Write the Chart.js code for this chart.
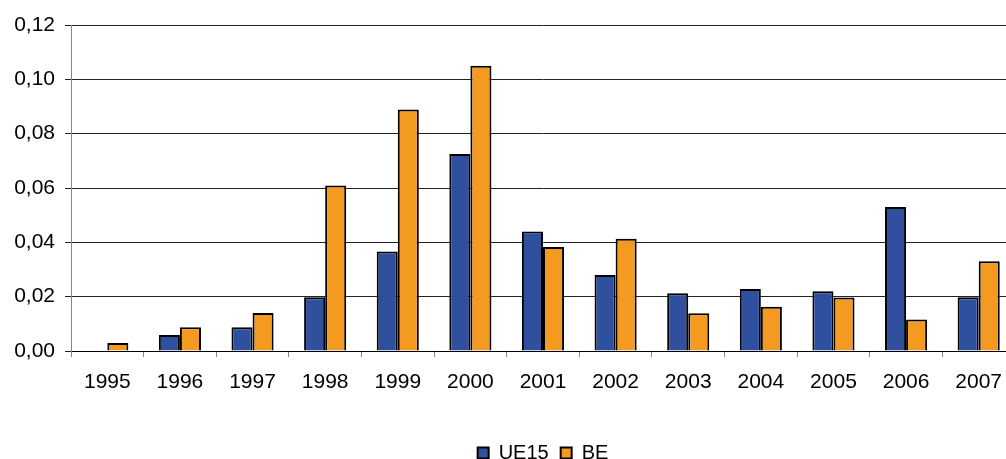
<!DOCTYPE html>
<html>
<head>
<meta charset="utf-8">
<script src="https://cdn.jsdelivr.net/npm/chart.js@4/dist/chart.umd.min.js"></script>
<style>
html,body{margin:0;padding:0;background:#fff;overflow:hidden;width:1006px;height:459px;}
canvas{display:block;}
</style>
</head>
<body>
<canvas id="c" width="1016" height="473"></canvas>
<script>
const categories = ['1995','1996','1997','1998','1999','2000','2001','2002','2003','2004','2005','2006','2007'];
const ue15 = [0, 0.0059, 0.0087, 0.0198, 0.0366, 0.0725, 0.0440, 0.0280, 0.0213, 0.0228, 0.0220, 0.0530, 0.0198];
const be   = [0.0029, 0.0087, 0.0140, 0.0609, 0.0889, 0.1050, 0.0383, 0.0413, 0.0139, 0.0163, 0.0197, 0.0116, 0.0330];
const seriesNames = ['UE15', 'BE'];
const yTicks = [0, 0.02, 0.04, 0.06, 0.08, 0.10, 0.12];

const FONT = {family: "'Liberation Sans', Arial, sans-serif", size: 21};

new Chart(document.getElementById('c'), {
  type: 'bar',
  data: {
    labels: categories,
    datasets: [
      {label: seriesNames[0], data: ue15, backgroundColor: '#2F509F', borderColor: '#000', borderWidth: 2, borderSkipped: 'bottom'},
      {label: seriesNames[1], data: be, backgroundColor: '#F49A20', borderColor: '#000', borderWidth: 2, borderSkipped: 'bottom'}
    ]
  },
  options: {
    responsive: false,
    animation: false,
    layout: {padding: {top: 25, right: 1, left: 0, bottom: 0}},
    datasets: {bar: {categoryPercentage: 0.58, barPercentage: 1.0}},
    plugins: {
      tooltip: {enabled: false},
      legend: {
        position: 'bottom',
        fullSize: false,
        labels: {
          font: {family: FONT.family, size: 20}, color: '#000',
          boxWidth: 11, boxHeight: 11, padding: 12
        }
      }
    },
    scales: {
      x: {
        offset: true,
        grid: {display: true, drawOnChartArea: false, drawTicks: true, tickLength: 6, color: '#888', offset: true},
        border: {display: true, color: '#000', width: 1},
        ticks: {font: FONT, color: '#000', padding: 13, maxRotation: 0, autoSkip: false},
        afterFit: s => { s.height = 80; }
      },
      y: {
        min: 0, max: 0.12,
        afterBuildTicks: s => { s.ticks = yTicks.map(v => ({value: v})); },
        grid: {color: '#222', lineWidth: 1, tickLength: 6, drawTicks: true},
        border: {display: true, color: '#888', width: 1},
        ticks: {
          font: FONT, color: '#000', padding: 10,
          callback: v => Number(v).toFixed(2).replace('.', ',')
        },
        afterFit: s => { s.width = 71; }
      }
    }
  }
});
</script>
</body>
</html>
